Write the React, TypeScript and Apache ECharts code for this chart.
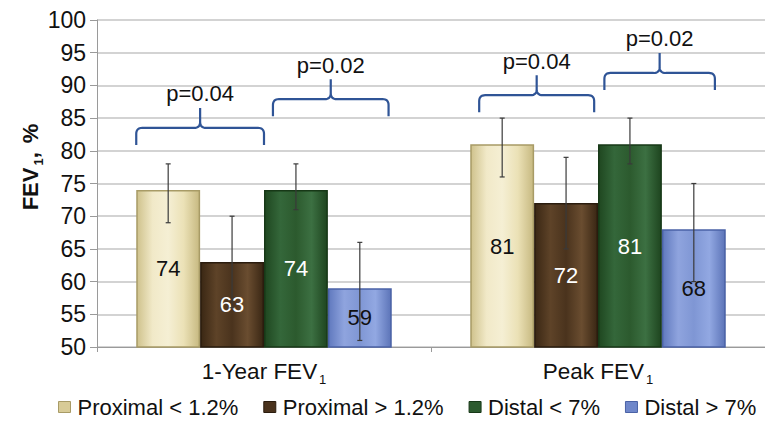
import React, { useEffect, useRef } from "react";
import * as echarts from "echarts";

const categories = ["1-Year FEV1", "Peak FEV1"];
const seriesNames = ["Proximal < 1.2%", "Proximal > 1.2%", "Distal < 7%", "Distal > 7%"];
const proximalLow = [74, 81];
const proximalHigh = [63, 72];
const distalLow = [74, 81];
const distalHigh = [59, 68];
// error bars [low, high] per category
const proximalLowErr = [[69, 78], [76, 85]];
const proximalHighErr = [[56, 70], [65, 79]];
const distalLowErr = [[71, 78], [78, 85]];
const distalHighErr = [[51, 66], [60, 75]];
// brackets: category, level, span in bar units (from, to), label
const braceCats = [0, 0, 1, 1];
const braceLevels = [83.5, 87.9, 88.5, 91.9];
const braceFrom = [0, 2.14, 0.14, 2.1];
const braceTo = [2, 3.95, 1.94, 3.83];
const braceLabels = ["p=0.04", "p=0.02", "p=0.04", "p=0.02"];
const yTicks = [50, 100, 5];

const FONT = "'Liberation Sans', Arial, sans-serif";
const GAP = 0.235;

function grad(stops: string[]) {
  return new echarts.graphic.LinearGradient(
    0, 0, 1, 0,
    stops.map((c, i) => ({ offset: i / (stops.length - 1), color: c }))
  );
}

const barColors = [
  grad(["#CFC28C", "#F1E9C8", "#F5EFD4", "#EBE1B6", "#C7B981"]),
  grad(["#3A2714", "#5E4328", "#4A331D", "#6A4D30", "#3A2714"]),
  grad(["#1F4720", "#34673A", "#2C5A2E", "#3C7042", "#1E451F"]),
  grad(["#6079BE", "#8FA4DE", "#7F96D4", "#92A8E2", "#5C74B8"]),
];
const borderColors = ["#A89B66", "#2A1C0E", "#173817", "#4A62A6"];
const labelColors = ["#111", "#fff", "#fff", "#111"];
const legendColors = ["#D8CB97", "#4A331D", "#2C5A2E", "#6F87CA"];

function braceCurve(x0: number, x1: number, yh: number, drop: number, tip: number) {
  const r = 6;
  const xc = (x0 + x1) / 2;
  const pts: number[][] = [];
  const quad = (p0: number[], c: number[], p1: number[]) => {
    for (let i = 0; i <= 8; i++) {
      const t = i / 8;
      pts.push([
        (1 - t) * (1 - t) * p0[0] + 2 * (1 - t) * t * c[0] + t * t * p1[0],
        (1 - t) * (1 - t) * p0[1] + 2 * (1 - t) * t * c[1] + t * t * p1[1],
      ]);
    }
  };
  pts.push([x0, yh + drop]);
  quad([x0, yh + r], [x0, yh], [x0 + r, yh]);
  quad([xc - r, yh], [xc, yh], [xc, yh - r]);
  pts.push([xc, yh - tip]);
  pts.push([xc, yh - r]);
  quad([xc, yh - r], [xc, yh], [xc + r, yh]);
  quad([x1 - r, yh], [x1, yh], [x1, yh + r]);
  pts.push([x1, yh + drop]);
  return pts;
}

export default function App() {
  const ref = useRef<HTMLDivElement>(null);
  useEffect(() => {
    if (!ref.current) return;
    const chart = echarts.init(ref.current, null, { renderer: "svg" });
    const values = [proximalLow, proximalHigh, distalLow, distalHigh];
    const errs = [proximalLowErr, proximalHighErr, distalLowErr, distalHighErr];
    const errData: number[][] = [];
    errs.forEach((arr, bi) => arr.forEach((e, ci) => errData.push([ci, e[0], e[1], bi])));
    const braceData = braceCats.map((c, i) => [c, braceLevels[i], braceFrom[i], braceTo[i], i]);

    const bars = values.map((v, i) => ({
      name: seriesNames[i],
      type: "bar",
      data: v,
      barGap: "0%",
      barCategoryGap: GAP * 100 + "%",
      itemStyle: { color: barColors[i], borderColor: borderColors[i], borderWidth: 1.5 },
      label: {
        show: true,
        position: "inside",
        color: labelColors[i],
        fontSize: 22,
        fontFamily: FONT,
        textBorderWidth: 0,
      },
      z: 2,
    }));

    chart.setOption({
      animation: false,
      backgroundColor: "#fff",
      textStyle: { fontFamily: FONT },
      grid: { left: 97, top: 20, width: 680, height: 327, containLabel: false },
      legend: {
        data: seriesNames.map((n, i) => ({ name: n, itemStyle: { color: legendColors[i], borderColor: borderColors[i], borderWidth: 1 } })),
        left: 58,
        top: 396,
        width: 707,
        padding: 0,
        itemWidth: 12,
        itemHeight: 11,
        itemGap: 25,
        icon: "rect",
        textStyle: { fontSize: 22, color: "#111", fontFamily: FONT, padding: [0, 0, 0, 2] },
      },
      xAxis: {
        type: "category",
        data: categories,
        axisLine: { lineStyle: { color: "#9A9A9A", width: 1 } },
        axisTick: { show: true, length: 5, lineStyle: { color: "#9A9A9A" } },
        axisLabel: {
          margin: 9,
          color: "#111",
          fontSize: 22.5,
          fontFamily: FONT,
          formatter: (v: string) => "{a|" + v.replace(/1$/, "") + "}{s|1}",
          rich: {
            a: { fontSize: 22.5, fontFamily: FONT, color: "#111" },
            s: { fontSize: 13, fontFamily: FONT, color: "#111", padding: [17, 0, 0, 2] },
          },
        },
      },
      yAxis: {
        type: "value",
        min: yTicks[0],
        max: yTicks[1],
        interval: yTicks[2],
        axisLine: { show: true, lineStyle: { color: "#9A9A9A" } },
        axisTick: { show: true, length: 7, lineStyle: { color: "#9A9A9A" } },
        axisLabel: { color: "#111", fontSize: 23, fontFamily: FONT, margin: 11 },
        splitLine: { lineStyle: { color: "#C4C4C4", width: 1.5 } },
      },
      graphic: [
        {
          type: "text",
          x: 30,
          y: 167,
          rotation: Math.PI / 2,
          style: {
            text: "{b|FEV}{s|1}{b|,}{p|%}",
            align: "center",
            verticalAlign: "middle",
            textAlign: "center",
            textVerticalAlign: "middle",
            rich: {
              b: { fontSize: 22, fontWeight: "bold", fontFamily: FONT, fill: "#111" },
              s: { fontSize: 13, fontWeight: "bold", fontFamily: FONT, fill: "#111", padding: [16, 0, 0, 2] },
              p: { fontSize: 22, fontWeight: "bold", fontFamily: FONT, fill: "#111", padding: [0, 0, 0, 9] },
            },
          },
        },
      ],
      series: [
        ...bars,
        {
          type: "custom",
          name: "errors",
          data: errData,
          encode: { x: 0, y: [1, 2] },
          z: 5,
          silent: true,
          renderItem: (params: any, api: any) => {
            const cat = api.value(0);
            const lo = api.coord([cat, api.value(1)]);
            const hi = api.coord([cat, api.value(2)]);
            const bi = api.value(3);
            const band = api.size([1, 0])[0];
            const groupW = band * (1 - GAP);
            const barW = groupW / 4;
            const x = lo[0] - groupW / 2 + barW * (bi + 0.5);
            const st = { stroke: "#3A3A3A", lineWidth: 1.2 };
            return {
              type: "group",
              children: [
                { type: "line", shape: { x1: x, y1: lo[1], x2: x, y2: hi[1] }, style: st },
                { type: "line", shape: { x1: x - 2.5, y1: lo[1], x2: x + 2.5, y2: lo[1] }, style: st },
                { type: "line", shape: { x1: x - 2.5, y1: hi[1], x2: x + 2.5, y2: hi[1] }, style: st },
              ],
            };
          },
        },
        {
          type: "custom",
          name: "braces",
          data: braceData,
          encode: { x: 0, y: 1 },
          z: 6,
          silent: true,
          clip: false,
          renderItem: (params: any, api: any) => {
            const cat = api.value(0);
            const p = api.coord([cat, api.value(1)]);
            const band = api.size([1, 0])[0];
            const groupW = band * (1 - GAP);
            const barW = groupW / 4;
            const left = p[0] - groupW / 2;
            const x0 = left + barW * api.value(2);
            const x1 = left + barW * api.value(3);
            const idx = api.value(4);
            const pts = braceCurve(x0, x1, p[1], 17, 20);
            return {
              type: "group",
              children: [
                { type: "polyline", shape: { points: pts }, style: { stroke: "#2F5496", lineWidth: 2.2, fill: null } },
                {
                  type: "text",
                  style: {
                    text: braceLabels[idx],
                    x: (x0 + x1) / 2,
                    y: p[1] - 34,
                    align: "center",
                    verticalAlign: "middle",
                    textAlign: "center",
                    textVerticalAlign: "middle",
                    fontSize: 22,
                    fontFamily: FONT,
                    fill: "#111",
                  },
                },
              ],
            };
          },
        },
      ],
    });
    return () => chart.dispose();
  }, []);
  return <div ref={ref} style={{ position: "fixed", left: 0, top: 0, width: 765, height: 424 }} />;
}
